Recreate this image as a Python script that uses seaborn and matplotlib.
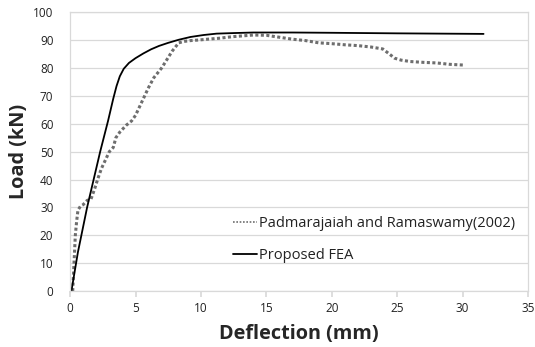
import matplotlib
matplotlib.use("Agg")
import matplotlib.pyplot as plt
import seaborn as sns
import pandas as pd

# Experimental (Padmarajaiah and Ramaswamy 2002)
exp_x = [0.2, 0.25, 0.3, 0.35, 0.4, 0.5, 0.6, 0.8, 1.0, 1.3, 1.6, 1.9, 2.1, 2.4, 2.7, 3.0, 3.3, 3.5, 3.8, 4.0,
         4.3, 4.7, 5.0, 5.3, 5.7, 6.0, 6.4, 7.0, 7.4, 7.8, 8.3, 8.7, 9.2, 9.8, 10.5, 11.3, 12.4,
         13.2, 14.0, 15.0, 16.0, 17.0, 18.0, 19.0, 20.0, 21.0, 22.0, 23.0, 23.9, 24.4, 24.8, 25.3, 26.0, 27.0,
         28.0, 29.0, 30.2]
exp_y = [0.0, 5.0, 10.0, 15.0, 20.0, 25.0, 29.0, 30.5, 31.0, 32.5, 33.0, 37.0, 40.0, 44.0, 47.0, 50.0, 51.5, 55.0, 57.0, 58.0,
         59.5, 61.0, 63.0, 66.0, 70.0, 73.0, 76.5, 80.0, 83.0, 86.0, 89.0, 89.5, 89.8, 90.0, 90.3, 90.6, 91.2,
         91.5, 91.8, 91.7, 91.0, 90.3, 89.8, 89.0, 88.7, 88.3, 88.0, 87.5, 86.8, 85.0, 83.5, 82.8, 82.3, 82.0,
         81.8, 81.3, 81.0]

# Proposed FEA
fea_x = [0.1, 0.6, 1.3, 1.8, 2.3, 2.9, 3.3, 3.55, 3.8, 4.1, 4.5, 5.0, 5.6, 6.2, 6.8, 7.5, 8.3, 9.2, 10.2, 11.2,
         12.5, 14.0, 17.0, 20.0, 25.0, 31.6]
fea_y = [0.0, 14.0, 30.0, 40.0, 50.0, 61.0, 69.0, 73.5, 77.0, 79.7, 81.8, 83.5, 85.2, 86.7, 87.9, 89.0, 90.1, 91.1, 91.8, 92.3,
         92.5, 92.7, 92.7, 92.6, 92.4, 92.2]

x_ticks = [0, 5, 10, 15, 20, 25, 30, 35]
y_ticks = [0, 10, 20, 30, 40, 50, 60, 70, 80, 90, 100]

sns.set_theme(style="white")
plt.rcParams['font.family'] = ['Open Sans', 'DejaVu Sans']

fig = plt.figure(figsize=(5.35, 3.47), dpi=100)
ax = fig.add_axes([0.131, 0.161, 0.856, 0.804])

exp_df = pd.DataFrame({"x": exp_x, "y": exp_y})
fea_df = pd.DataFrame({"x": fea_x, "y": fea_y})

sns.lineplot(data=exp_df, x="x", y="y", ax=ax, color="#6e6e6e", linestyle=(0, (1, 0.8)),
             linewidth=2.2, sort=False, label="Padmarajaiah and Ramaswamy(2002)")
sns.lineplot(data=fea_df, x="x", y="y", ax=ax, color="black", linewidth=1.3, sort=False,
             label="Proposed FEA")

ax.set_xlim(0, 35)
ax.set_ylim(0, 100)
ax.set_xticks(x_ticks)
ax.set_yticks(y_ticks)
ax.yaxis.grid(True, color="#d9d9d9", linewidth=0.9)
ax.xaxis.grid(False)
for s in ax.spines.values():
    s.set_color("#d9d9d9")
    s.set_linewidth(0.9)
ax.tick_params(axis="x", bottom=True, length=4, color="#d9d9d9", labelsize=8.5, pad=4, labelcolor="#222222")
ax.tick_params(axis="y", left=False, labelsize=8.5, pad=6, labelcolor="#222222")

ax.set_xlabel("Deflection (mm)", fontsize=14.3, fontweight="bold", labelpad=6)
ax.set_ylabel("Load (kN)", fontsize=14.3, fontweight="bold", labelpad=3)

leg = ax.legend(loc="lower right", bbox_to_anchor=(1.0, 0.055), frameon=False, fontsize=10.5,
                handlelength=1.7, handletextpad=0.1, labelspacing=1.15)
leg.get_lines()[0].set_linewidth(1.2)
leg.get_lines()[0].set_linestyle((0, (1, 1)))
for t in leg.get_texts():
    t.set_color("#222222")

fig.savefig("out.png", dpi=100)
